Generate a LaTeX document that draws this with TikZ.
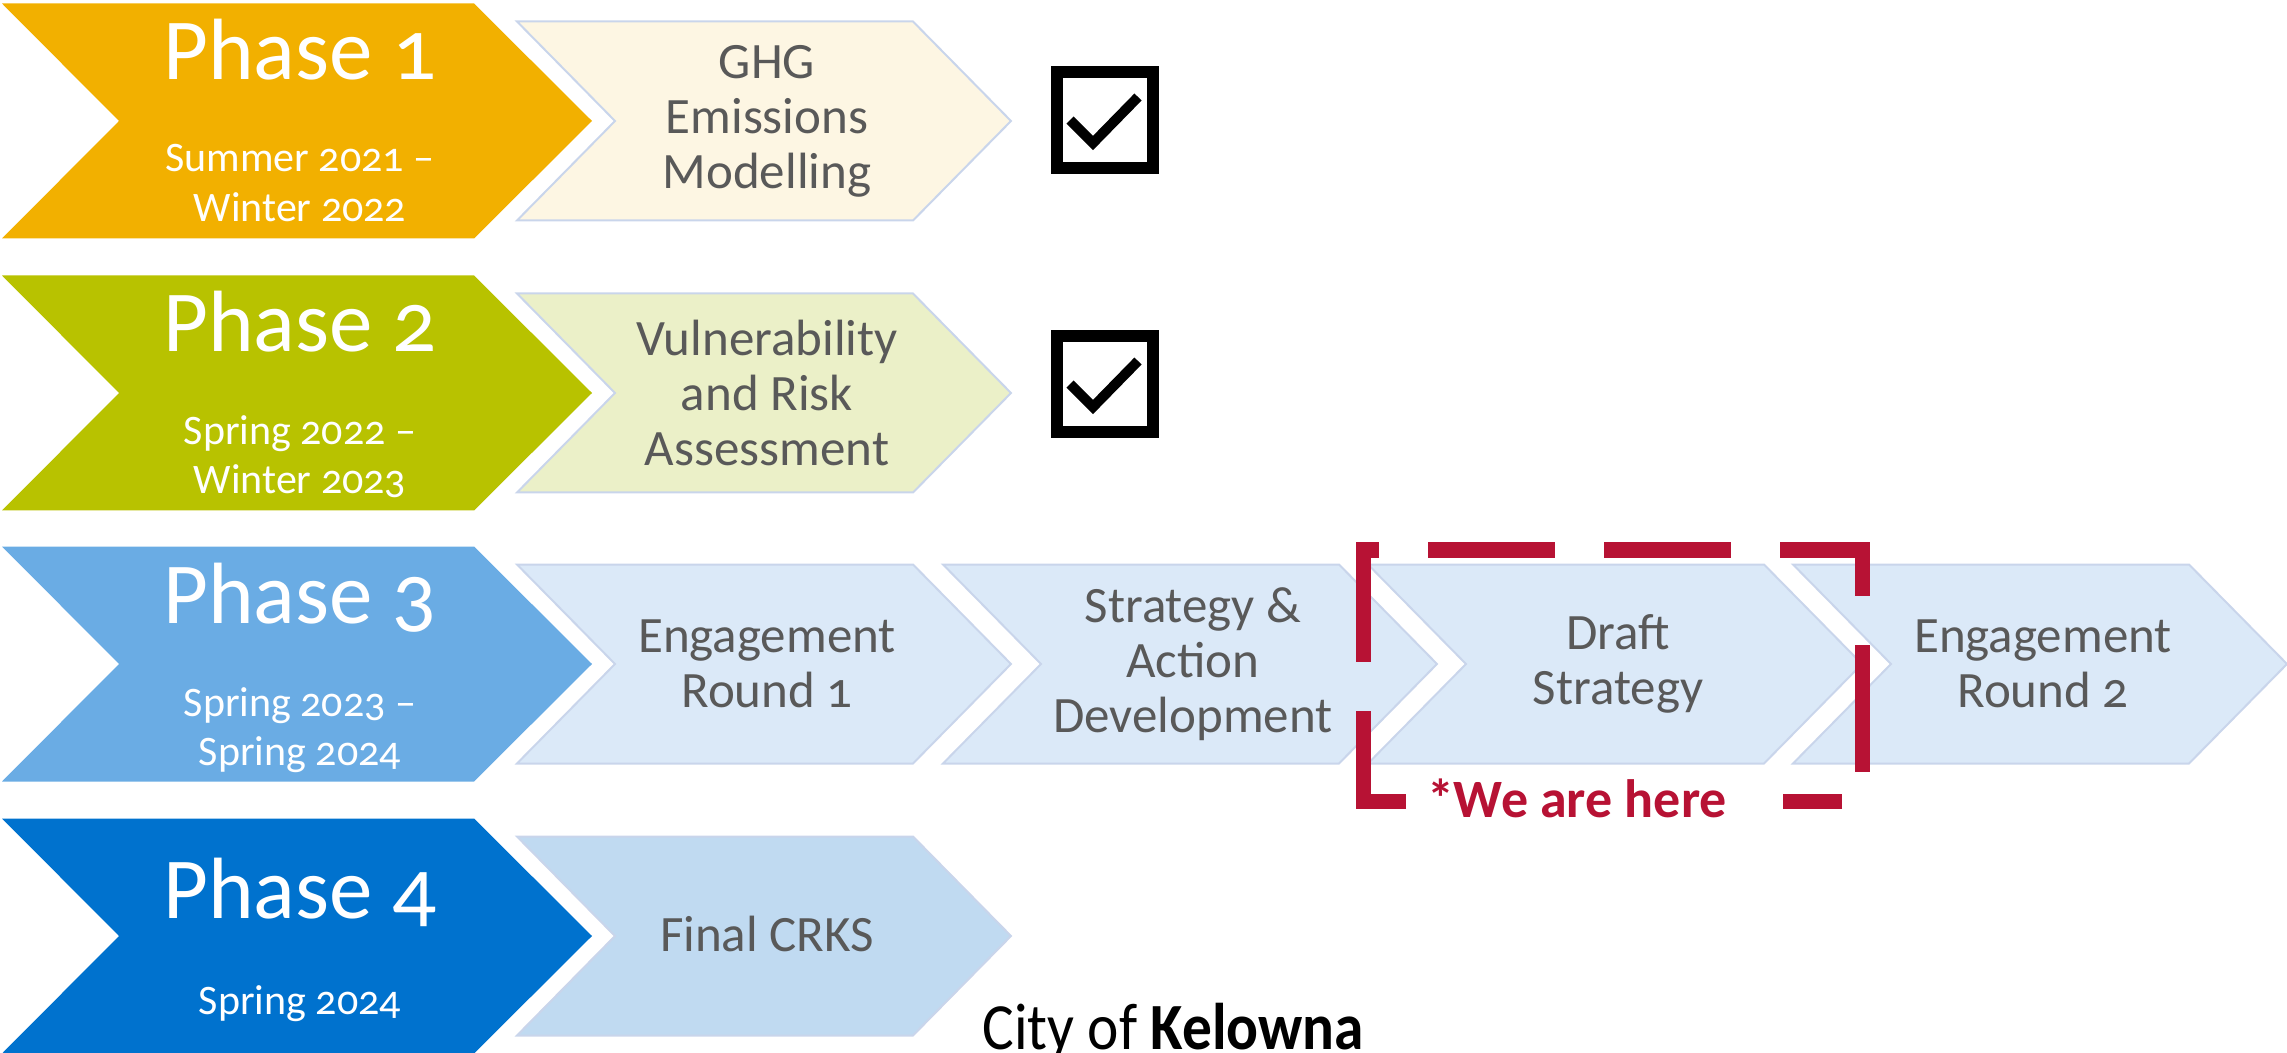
\documentclass[tikz,border=0pt]{standalone}
\usepackage{fontspec}
\setmainfont{Carlito}[Numbers=OldStyle]
\definecolor{ph1}{HTML}{F2B000}
\definecolor{ph2}{HTML}{B8C200}
\definecolor{ph3}{HTML}{6AACE4}
\definecolor{ph4}{HTML}{0072CE}
\definecolor{bx1}{HTML}{FDF6E3}
\definecolor{bx2}{HTML}{EBF0C8}
\definecolor{bx3}{HTML}{DBE9F8}
\definecolor{bx4}{HTML}{C0DAF1}
\definecolor{bordc}{HTML}{C9D5EB}
\definecolor{txtgray}{HTML}{595959}
\definecolor{redc}{HTML}{B71234}
\newcommand\phasechev[2]{\fill[#1] (2,#2-117.5) -- (474,#2-117.5) -- (592,#2) -- (474,#2+117.5) -- (2,#2+117.5) -- (119,#2) -- cycle;}
\newcommand\stepchev[3]{\filldraw[fill=#1, draw=bordc, line width=1pt, line join=miter] (#2,#3-99.5) -- (#2+396,#3-99.5) -- (#2+494,#3) -- (#2+396,#3+99.5) -- (#2,#3+99.5) -- (#2+98,#3) -- cycle;}
\begin{document}
\begin{tikzpicture}[x=0.5pt,y=-0.5pt,
  phasetitle/.style={text=white, inner sep=0pt, anchor=base, font=\fontsize{43.5}{45}\selectfont},
  phasedate/.style={text=white, inner sep=0pt, anchor=base, font=\fontsize{21}{25}\selectfont},
  boxtxt/.style={text=txtgray, align=center, inner sep=0pt, font=\fontsize{25.5}{27.5}\selectfont},
  checkbox/.style={draw=black, line width=6pt, minimum size=48pt, inner sep=0pt},
  checkmark/.style={draw=black, line width=5pt, line cap=butt, line join=miter},
  bracket/.style={draw=redc, line width=7.5pt, line cap=butt, line join=miter},
  redtxt/.style={text=redc, inner sep=0pt, anchor=base, font=\fontsize{27}{30}\selectfont\bfseries}]
\useasboundingbox (0,0) rectangle (2287,1053);
% phase chevrons
\phasechev{ph1}{121}
\phasechev{ph2}{393}
\phasechev{ph3}{664}
\phasechev{ph4}{936}
% step chevrons
\stepchev{bx1}{517}{121}
\stepchev{bx2}{517}{393}
\stepchev{bx3}{517}{664}
\stepchev{bx3}{943}{664}
\stepchev{bx3}{1368}{664}
\stepchev{bx3}{1793}{664}
\stepchev{bx4}{517}{936}
% phase texts
\node[phasetitle] (p1t) at (300,80) {Phase 1};
\node[phasedate] (p1a) at (300,172) {Summer 2021 –};
\node[phasedate] (p1b) at (300,222) {Winter 2022};
\node[phasetitle] (p2t) at (300,352) {Phase 2};
\node[phasedate] (p2a) at (300,445) {Spring 2022 –};
\node[phasedate] (p2b) at (300,494) {Winter 2023};
\node[phasetitle] (p3t) at (300,623) {Phase 3};
\node[phasedate] (p3a) at (300,716) {Spring 2023 –};
\node[phasedate] (p3b) at (300,765) {Spring 2024};
\node[phasetitle] (p4t) at (300,918) {Phase 4};
\node[phasedate] (p4a) at (300,1014) {Spring 2024};
% step texts
\node[boxtxt] (b1) at (767,121) {GHG\\Emissions\\Modelling};
\node[boxtxt] (b2) at (767,393) {Vulnerability\\and Risk\\Assessment};
\node[boxtxt] (b3a) at (767,664) {Engagement\\Round 1};
\node[boxtxt] (b3b) at (1193,664) {Strategy \&\\Action\\Development};
\node[boxtxt] (b3c) at (1618,664) {Draft\\Strategy};
\node[boxtxt] (b3d) at (2043,664) {Engagement\\Round 2};
\node[boxtxt] (b4) at (767,934) {Final CRKS};
% check boxes
\node[checkbox] (chk1) at (1105,120) {};
\draw[checkmark] (chk1.center) ++(-35,0) -- ++(23,23) -- ++(45,-46);
\node[checkbox] (chk2) at (1105,384) {};
\draw[checkmark] (chk2.center) ++(-35,0) -- ++(23,23) -- ++(45,-46);
% we are here bracket
\draw[bracket] (1379,550) -- (1363,550) -- (1363,662);
\draw[bracket] (1428,550) -- (1555,550);
\draw[bracket] (1604,550) -- (1731,550);
\draw[bracket] (1780,550) -- (1862,550) -- (1862,596);
\draw[bracket] (1862,645) -- (1862,772);
\draw[bracket] (1842,801) -- (1783,801);
\draw[bracket] (1406,801) -- (1363,801) -- (1363,711);
\node[redtxt] (here) at (1577,817) {*We are here};
% logo
\node[anchor=base west, inner sep=0pt, font=\fontsize{33}{33}\selectfont, xscale=0.9] (logo) at (982,1049) {City of \textbf{Kelowna}};
\end{tikzpicture}
\end{document}
